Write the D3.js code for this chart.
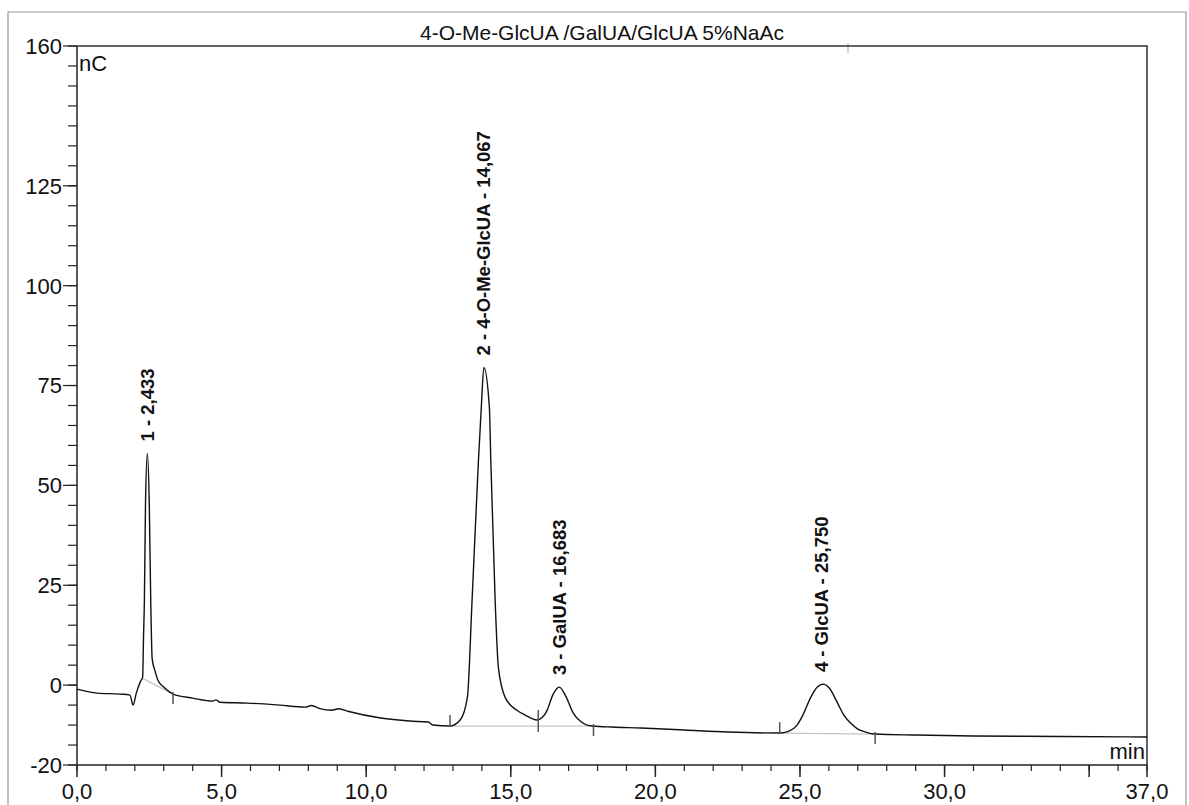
<!DOCTYPE html>
<html>
<head>
<meta charset="utf-8">
<script src="https://cdn.jsdelivr.net/npm/d3@7"></script>
<style>
  body { margin: 0; background: #fff; }
  text { font-family: "Liberation Sans", Arial, sans-serif; fill: #111; }
  .trace { fill: none; stroke: #111; stroke-width: 1.4; }
  .base { fill: none; stroke: #c4c4c4; stroke-width: 1.2; }
  .bound { stroke: #555; stroke-width: 1.5; }
  .axis line, .axis path { stroke: #222; }
</style>
</head>
<body>
<svg width="1189" height="805"></svg>
<script>

var title = "4-O-Me-GlcUA /GalUA/GlcUA 5%NaAc";

// trace (min, nC)
var traceTime = [0, 0.7, 1.5, 1.83, 1.94, 2.05, 2.2, 2.27, 2.3, 2.33, 2.37, 2.433, 2.5, 2.55, 2.6, 2.7, 2.8, 3.0, 3.32,
  4.0, 4.7, 4.8, 4.95, 5.9, 7.0, 7.9, 8.1, 8.4, 8.8, 9.05, 9.4, 10.5, 11.5, 12.15, 12.3, 12.9,
  13.25, 13.5, 13.66, 13.88, 13.98, 14.07, 14.26, 14.31, 14.46, 14.57, 14.8, 15.2, 15.5, 15.9,
  16.1, 16.26, 16.45, 16.68, 16.9, 17.16, 17.4, 17.64, 17.86, 18.5, 19.5, 21.0, 22.5, 24.3,
  24.6, 24.9, 25.1, 25.36, 25.6, 25.8, 26.0, 26.3, 26.5, 26.75, 27.0, 27.27, 27.6, 29.0, 31.0, 34.0, 37.0];
var traceSignal = [-1, -2, -2.25, -2.5, -5, -2, 1, 2, 12, 21, 46, 58, 45, 21, 6.5, 3.5, 1.2, -0.5, -2.25,
  -3.25, -4, -3.7, -4.3, -4.5, -5, -5.5, -5.1, -5.9, -6.3, -5.9, -6.6, -8.25, -9, -9.25, -10, -10.25,
  -8.75, -3, 21, 56, 69.5, 79.5, 69.5, 56, 21, 4.5, -3, -6.25, -7.5, -8.75,
  -8, -6.25, -2.5, -0.5, -2.75, -7, -9, -10, -10.25, -10.5, -10.75, -11.25, -11.75, -12,
  -11.6, -10, -7.5, -3.25, -0.5, 0.25, -0.6, -4.5, -7.3, -9.5, -11, -11.75, -12.25, -12.5, -12.75, -12.85, -13];

var peakTimes = [2.433, 14.067, 16.683, 25.75];
var peakTops = [58, 79.5, -0.5, 0.25];
var peakNames = ["1 - 2,433", "2 - 4-O-Me-GlcUA - 14,067", "3 - GalUA - 16,683", "4 - GlcUA - 25,750"];

// integration baselines: [start time, start value, end time, end value]
var baseLines = [[2.25, 1.75, 3.32, -2.25], [12.9, -10.25, 17.86, -10.25], [24.3, -12, 27.6, -12.25]];

// peak delimiters: time, value, side (-1 above, 1 below, 0 across)
var boundTimes = [3.32, 12.9, 15.95, 17.86, 24.3, 27.6];
var boundValues = [-2.25, -10.25, -8.75, -10.25, -12, -12.25];
var boundSides = [1, -1, 0, 1, -1, 1];

var yLabelTicks = [-20, 0, 25, 50, 75, 100, 125, 160];
var xLabelTicks = [0, 5, 10, 15, 20, 25, 30, 37];

var svg = d3.select("svg"),
    width = +svg.attr("width"),
    height = +svg.attr("height");

var x = d3.scaleLinear().domain([0, 37]).range([77, 1147]);
var y = d3.scaleLinear().domain([-20, 160]).range([765, 46]);

// page frame and title box
svg.append("path")
    .attr("d", "M8,805V12H1186V805")
    .attr("fill", "none")
    .attr("stroke", "#9a9a9a")
    .attr("stroke-width", 1.2);

svg.append("text")
    .attr("x", 602)
    .attr("y", 40)
    .attr("text-anchor", "middle")
    .style("font-size", "21px")
    .text(title);

svg.append("line")
    .attr("x1", 848).attr("x2", 848)
    .attr("y1", 43).attr("y2", 53)
    .attr("stroke", "#aaa");

// plot frame
svg.append("path")
    .attr("d", "M" + x(0) + "," + y(160) + "H" + x(37) + "V" + y(-20))
    .attr("fill", "none")
    .attr("stroke", "#333")
    .attr("stroke-width", 1.5);

// y axis
var yAxis = svg.append("g").attr("class", "axis");
yAxis.append("line")
    .attr("x1", x(0)).attr("x2", x(0))
    .attr("y1", y(160)).attr("y2", y(-20))
    .attr("stroke-width", 1.5);

yAxis.selectAll(".minor")
    .data(d3.range(-20, 161, 5))
    .enter().append("line")
    .attr("x1", x(0) - 9).attr("x2", x(0))
    .attr("y1", function(d) { return y(d); })
    .attr("y2", function(d) { return y(d); })
    .attr("stroke-width", 1.2);

yAxis.selectAll(".major")
    .data(yLabelTicks)
    .enter().append("line")
    .attr("x1", x(0) - 14).attr("x2", x(0))
    .attr("y1", function(d) { return y(d); })
    .attr("y2", function(d) { return y(d); })
    .attr("stroke-width", 1.2);

yAxis.selectAll("text")
    .data(yLabelTicks)
    .enter().append("text")
    .attr("x", x(0) - 15)
    .attr("y", function(d) { return y(d); })
    .attr("dy", "0.36em")
    .attr("text-anchor", "end")
    .style("font-size", "22px")
    .text(function(d) { return d; });

// x axis
var xAxis = svg.append("g").attr("class", "axis");
xAxis.append("line")
    .attr("x1", x(0)).attr("x2", x(37))
    .attr("y1", y(-20)).attr("y2", y(-20))
    .attr("stroke-width", 1.5);

xAxis.selectAll(".minor")
    .data(d3.range(0, 38, 1))
    .enter().append("line")
    .attr("x1", function(d) { return x(d); })
    .attr("x2", function(d) { return x(d); })
    .attr("y1", y(-20)).attr("y2", y(-20) + 6)
    .attr("stroke-width", 1.2);

xAxis.selectAll(".major")
    .data([0, 5, 10, 15, 20, 25, 30, 35, 37])
    .enter().append("line")
    .attr("x1", function(d) { return x(d); })
    .attr("x2", function(d) { return x(d); })
    .attr("y1", y(-20)).attr("y2", y(-20) + 12)
    .attr("stroke-width", 1.5);

xAxis.selectAll("text")
    .data(xLabelTicks)
    .enter().append("text")
    .attr("x", function(d) { return x(d); })
    .attr("y", 799)
    .attr("text-anchor", "middle")
    .style("font-size", "22px")
    .text(function(d) { return d3.format(".1f")(d).replace(".", ","); });

svg.append("text")
    .attr("x", x(0) + 2)
    .attr("y", 71)
    .style("font-size", "22px")
    .text("nC");

svg.append("text")
    .attr("x", x(37) - 2)
    .attr("y", 759)
    .attr("text-anchor", "end")
    .style("font-size", "22px")
    .text("min");

// integration baselines
svg.selectAll(".base")
    .data(baseLines)
    .enter().append("line")
    .attr("class", "base")
    .attr("x1", function(d) { return x(d[0]); })
    .attr("y1", function(d) { return y(d[1]); })
    .attr("x2", function(d) { return x(d[2]); })
    .attr("y2", function(d) { return y(d[3]); });

// trace
var points = traceTime.map(function(t, i) { return [t, traceSignal[i]]; });

var line = d3.line()
    .x(function(d) { return x(d[0]); })
    .y(function(d) { return y(d[1]); })
    .curve(d3.curveMonotoneX);

svg.append("path")
    .datum(points)
    .attr("class", "trace")
    .attr("d", line);

// peak delimiters
svg.selectAll(".bound")
    .data(boundTimes)
    .enter().append("line")
    .attr("class", "bound")
    .attr("x1", function(d) { return x(d); })
    .attr("x2", function(d) { return x(d); })
    .attr("y1", function(d, i) {
      var s = boundSides[i];
      return y(boundValues[i]) + (s > 0 ? -2 : s < 0 ? -11 : -10);
    })
    .attr("y2", function(d, i) {
      var s = boundSides[i];
      return y(boundValues[i]) + (s > 0 ? 10 : s < 0 ? 1 : 12);
    });

// peak labels
svg.selectAll(".peak")
    .data(peakTimes)
    .enter().append("text")
    .attr("transform", function(d, i) {
      return "translate(" + x(d) + "," + (y(peakTops[i]) - 12) + ") rotate(-90)";
    })
    .attr("dy", "0.36em")
    .style("font-size", "18.5px")
    .style("font-weight", "bold")
    .text(function(d, i) { return peakNames[i]; });

</script>
</body>
</html>
